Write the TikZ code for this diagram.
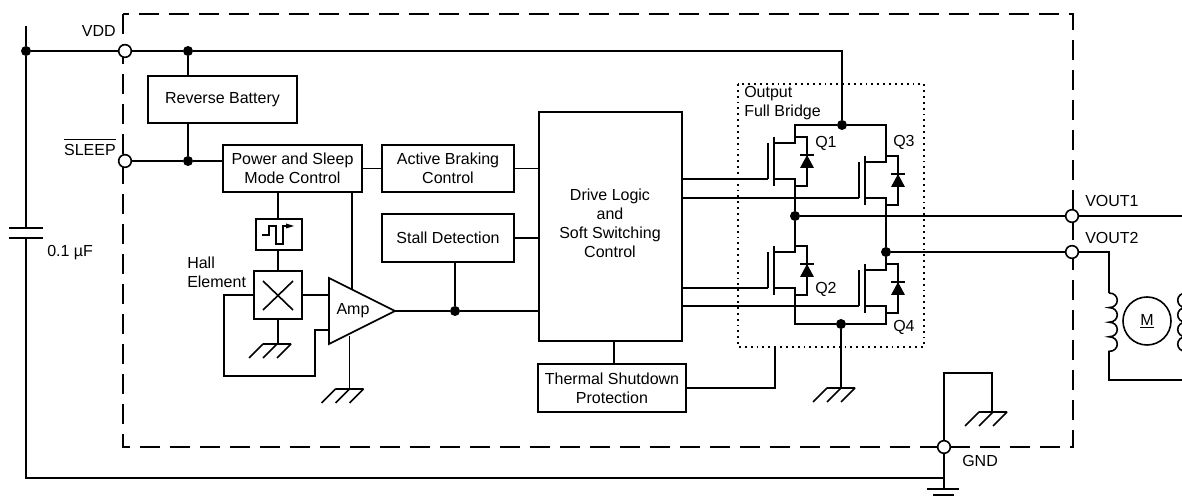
\documentclass[tikz,border=0pt]{standalone}
\usepackage{fontspec}
\setmainfont{Liberation Sans}
\usetikzlibrary{calc, arrows.meta}

\begin{document}
\begin{tikzpicture}%
	[x=0.75pt,
	y=-0.75pt,
	wire/.style={line width=1.2pt, line join=miter},
	block/.style={draw, line width=1.2pt, align=center, inner sep=0pt, font=\fontsize{12}{14.2}\selectfont},
	label/.style={inner sep=0pt, font=\fontsize{12}{14.2}\selectfont},
	junction/.style={inner sep=0pt, circle, fill=black, minimum size=7.5pt},
	pin/.style={inner sep=0pt, circle, draw, fill=white, line width=1.2pt, minimum size=9.5pt},
	hatch/.pic={\draw[wire] (-14,0) -- (14,0) (-14,0) -- (-28,14) (0,0) -- (-14,14) (14,0) -- (0,14);},
	mosfet/.pic={
		\coordinate (-d) at (27,-18);
		\coordinate (-s) at (27,18);
		\coordinate (-g) at (0,18);
		\draw[wire] (0,-18) -- (0,18);
		\draw[wire] (6,-24) -- (6,25);
		\draw[wire] (6,-18) -- (27,-18) -- (27,-24) -- (39,-24) -- (39,25) -- (27,25) -- (27,18) -- (6,18);
		\fill (32,7) -- (46,7) -- (39,-6) -- cycle;
		\draw[wire] (32,-6) -- (46,-6);}]
\clip (0,0) rectangle (1182,498);
%%
%% Package outline and output bridge outline
%%
\draw[line width=1.2pt, dash pattern=on 15pt off 7.5pt] (123,14) rectangle (1073,447);
\draw[line width=1.4pt, dash pattern=on 1.4pt off 3pt] (738,84) rectangle (924,347);
%%
%% Blocks
%%
\node[block, minimum width=111.75pt, minimum height=35.25pt] (revbat) at (222.5,99.5) {Reverse Battery};
\node[block, minimum width=104.25pt, minimum height=35.25pt] (pwrctl) at (292.5,168.5) {Power and Sleep\\Mode Control};
\node[block, minimum width=99pt, minimum height=35.25pt] (brake) at (448,168.5) {Active Braking\\Control};
\node[block, minimum width=99pt, minimum height=36pt] (stall) at (448,238) {Stall Detection};
\node[block, minimum width=107.25pt, minimum height=171.75pt] (logic) at (610.5,226.5) {};
\node[label, align=center] (logictext) at (610,223.5) {Drive Logic\\and\\Soft Switching\\Control};
\node[block, minimum width=111pt, minimum height=36pt] (thermal) at (612,388) {Thermal Shutdown\\Protection};
\node[block, minimum width=34.5pt, minimum height=23.25pt] (schmitt) at (279,234.5) {};
\node[block, minimum width=36pt, minimum height=36pt] (hall) at (278,295) {};
\draw[wire] (262,235) -- (269,235) -- (269,226) -- (276,226) -- (276,244) -- (283,244) -- (283,226) -- (288,226);
\fill (294,226) -- (286,223.5) -- (286,228.5) -- cycle;
\draw[wire] (263,281) -- (293,310) (293,281) -- (263,310);
\coordinate (amptop) at (329,278);
\coordinate (ampbot) at (329,344);
\coordinate (ampout) at (395,311);
\draw[wire] (amptop) -- (ampout) -- (ampbot) -- cycle;
\node[label] (amp) at (353,311) {Amp};
%%
%% Power transistors
%%
\pic (q1) at (768,161) {mosfet};
\pic (q3) at (859,180) {mosfet};
\pic (q2) at (768,270) {mosfet};
\pic (q4) at (859,288) {mosfet};
%%
%% Pins and junctions
%%
\node[pin] (vdd) at (125,51) {};
\node[pin] (sleep) at (125,161) {};
\node[pin] (vout1) at (1072,216) {};
\node[pin] (vout2) at (1072,252) {};
\node[pin] (gnd) at (944,447) {};
\node[junction] (jrail) at (26,51) {};
\node[junction] (jvdd) at (188,51) {};
\node[junction] (jsleep) at (188,161) {};
\node[junction] (jstall) at (455,311) {};
\node[junction] (jtop) at (842,125) {};
\node[junction] (jq1) at (795,216) {};
\node[junction] (jq3) at (886,252) {};
\node[junction] (jbot) at (841,324) {};
%%
%% Supply rail and capacitor
%%
\coordinate (railtop) at (26,26);
\coordinate (capa) at (26,228);
\coordinate (capb) at (26,238);
\coordinate (railend) at (944,478);
\draw[wire] (railtop) -- (jrail) -- (capa);
\draw[wire] (capb) |- (railend);
\draw[wire] (9,228) -- (43,228) (9,238) -- (43,238);
\draw[wire] (jrail) -- (vdd);
\draw[wire] (vdd) -- (jvdd);
\draw[wire] (jvdd) -| (jtop);
\draw[wire] (jvdd) -- (jvdd |- revbat.north);
\draw[wire] (jsleep |- revbat.south) -- (jsleep);
\draw[wire] (sleep) -- (jsleep);
\draw[wire] (jsleep) -- (pwrctl.west |- jsleep);
%%
%% Control path
%%
\coordinate (logicstem) at (614,341);
\coordinate (thermalout) at (775,347);
\coordinate (amppower) at (352,289);
\coordinate (ampgnd) at (349.5,336);
\coordinate (hallgnd) at (278,344);
\coordinate (feedback) at (315,376);
\draw[wire] (pwrctl.east |- brake.east) -- (brake.west);
\draw[wire] (brake.east) -- (logic.west |- brake.east);
\draw[wire] (stall.east) -- (logic.west |- stall.east);
\draw[wire] (logicstem) -- (logicstem |- thermal.north);
\draw[wire] (thermal.east) -| (thermalout);
\draw[wire] (pwrctl.south -| hall.north) -- (schmitt.north -| hall.north);
\draw[wire] (schmitt.south -| hall.north) -- (hall.north);
\draw[wire] (hall.south) -- (hallgnd);
\pic at (277,344) {hatch};
\draw[wire] (hall.east) -- (amptop |- hall.east);
\draw[wire] (hall.west) -- (224,295) |- (feedback) |- (329,330);
\draw[wire] (amppower |- pwrctl.south) -- (amppower);
\draw[wire] (ampgnd) -- (349.5,389);
\pic at (349.5,389) {hatch};
\draw[wire] (ampout) -- (jstall);
\draw[wire] (jstall) -- (logic.west |- jstall);
\draw[wire] (stall.south -| jstall) -- (jstall);
%%
%% Output bridge
%%
\draw[wire] (logic.east |- q1-g) -- (q1-g);
\draw[wire] (logic.east |- q3-g) -- (q3-g);
\draw[wire] (logic.east |- q2-g) -- (q2-g);
\draw[wire] (logic.east |- q4-g) -- (q4-g);
\draw[wire] (q1-d) |- (jtop);
\draw[wire] (jtop) -| (q3-d);
\draw[wire] (q1-s) -- (jq1);
\draw[wire] (jq1) -- (q2-d);
\draw[wire] (q3-s) -- (jq3);
\draw[wire] (jq3) -- (q4-d);
\draw[wire] (q2-s) |- (jbot);
\draw[wire] (jbot) -| (q4-s);
\draw[wire] (jbot) -- (841,388);
\pic at (841,388) {hatch};
\draw[wire] (jq1) -- (vout1);
\draw[wire] (jq3) -- (vout2);
%%
%% Motor
%%
\coordinate (coila) at (1109,293);
\coordinate (coilb) at (1186,293);
\coordinate (outa) at (1182,216);
\coordinate (outb) at (1182,380);
\node[draw, wire, circle, inner sep=0pt, minimum size=36pt, font=\fontsize{12}{14}\selectfont] (motor) at (1147,321) {\underline{M}};
\draw[wire] (vout1) -- (outa);
\draw[wire] (vout2) -| (coila);
\draw[wire] (coila) \foreach \i in {1,2,3,4} { .. controls +(11,0) and +(11,0) .. ++(0,14.6) } |- (outb);
\draw[wire] (coilb) \foreach \i in {1,2,3,4} { .. controls +(-11,0) and +(-11,0) .. ++(0,14.6) };
%%
%% Ground pin
%%
\coordinate (gndtie) at (992,373);
\draw[wire] (gnd) |- (gndtie) -- (992,412);
\pic at (993,412) {hatch};
\coordinate (gndbar) at (944,489);
\draw[wire] (gnd) -- (gndbar);
\draw[wire] (927,489) -- (959,489) (933,495) -- (954,495);
%%
%% Labels
%%
\node[label, anchor=east] (lvdd) at (116,31) {VDD};
\node[label, anchor=base east] (lsleep) at (116,156) {$\overline{\mbox{\rule{0pt}{10.8pt}SLEEP}}$};
\node[label, anchor=west] (lcap) at (47,253) {0.1 µF};
\node[label, anchor=west, align=left] (lhall) at (187,272) {Hall\\Element};
\node[label, anchor=west, align=left] (lbridge) at (744,103) {Output\\Full Bridge};
\node[label, anchor=west] (lq1) at (815,143) {Q1};
\node[label, anchor=west] (lq3) at (893,142) {Q3};
\node[label, anchor=west] (lq2) at (815,289) {Q2};
\node[label, anchor=west] (lq4) at (893,327) {Q4};
\node[label, anchor=west] (lvout1) at (1085,201) {VOUT1};
\node[label, anchor=west] (lvout2) at (1085,238) {VOUT2};
\node[label, anchor=west] (lgnd) at (962,461) {GND};
%%
%%
\end{tikzpicture}
\end{document}
